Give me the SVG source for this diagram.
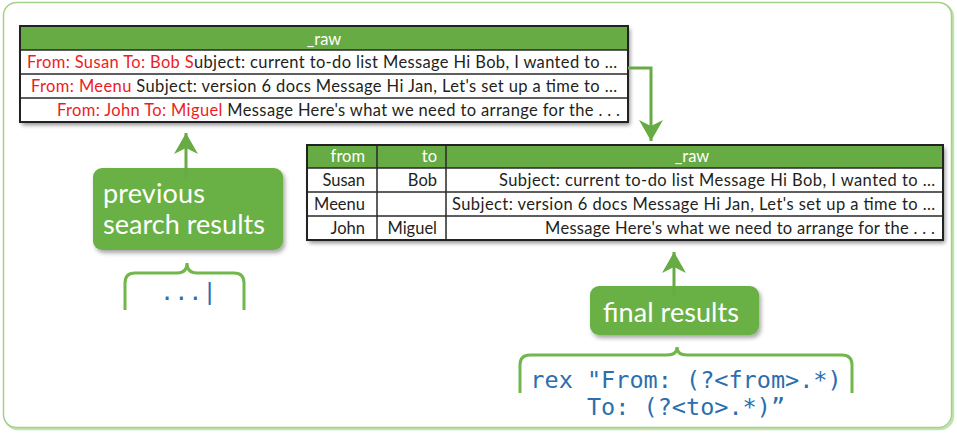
<svg xmlns="http://www.w3.org/2000/svg" width="957" height="433" viewBox="0 0 957 433">
<defs>
<style>
.t{font-family:Lato,"Open Sans","Liberation Sans",sans-serif;font-size:16.5px;fill:#231f20}
.h{font-family:Lato,"Open Sans","Liberation Sans",sans-serif;font-size:16.5px;fill:#ffffff}
.r{fill:#ed1c24}
.lbl{font-family:Lato,"Open Sans","Liberation Sans",sans-serif;font-size:27px;fill:#ffffff}
.code{font-family:"DejaVu Sans Mono","Liberation Mono",monospace;font-size:23.5px;fill:#2b6fae}
.grid{stroke:#2a2a2a;stroke-width:1.5;fill:none}
.border{stroke:#222222;stroke-width:2;fill:none}
.hdr{fill:#67ab44}
.box{fill:#69b145}
.conn{stroke:#67ab44;stroke-width:3;fill:none}
.brace{stroke:#72b74c;stroke-width:3;fill:none}
</style>
<filter id="sh" x="-5%" y="-10%" width="112%" height="130%">
<feDropShadow dx="2" dy="3" stdDeviation="2" flood-color="#000" flood-opacity="0.45"/>
</filter>
<filter id="sh2" x="-10%" y="-10%" width="125%" height="135%">
<feDropShadow dx="2" dy="3" stdDeviation="2" flood-color="#000" flood-opacity="0.35"/>
</filter>
<marker id="arr" viewBox="0 0 21 24" refX="21" refY="12" markerWidth="21" markerHeight="24" markerUnits="userSpaceOnUse" orient="auto">
<path d="M0,0 L21,12 L0,24 L6,12 Z" fill="#67ab44"/>
</marker>
</defs>
<rect width="957" height="433" fill="#ffffff"/>
<g id="frame">
<rect x="5" y="4" width="948" height="425" rx="13" fill="none" stroke="#c4e2b2" stroke-width="2.5"/>
<rect x="3.5" y="2.5" width="948" height="425" rx="13" fill="#ffffff" stroke="#a3d08a" stroke-width="1.5"/>
</g>
<g id="table-previous">
<rect x="20" y="26" width="608" height="96" fill="#ffffff" filter="url(#sh)"/>
<rect x="20" y="26" width="608" height="24" class="hdr"/>
<path class="grid" d="M20,50 H628 M20,74 H628 M20,98 H628"/>
<rect x="20" y="26" width="608" height="96" class="border"/>
<text class="h" x="324" y="45" text-anchor="middle">_raw</text>
<text class="t" x="27" y="68" textLength="590"><tspan class="r">From: Susan To: Bob S</tspan>ubject: current to-do list Message Hi Bob, I wanted to …</text>
<text class="t" x="31" y="92" textLength="586"><tspan class="r">From: Meenu</tspan> Subject: version 6 docs Message Hi Jan, Let's set up a time to …</text>
<text class="t" x="57" y="116" textLength="563"><tspan class="r">From: John To: Miguel</tspan> Message Here's what we need to arrange for the . . .</text>
</g>
<g id="table-final">
<rect x="307" y="145" width="636" height="95" fill="#ffffff" filter="url(#sh)"/>
<rect x="307" y="145" width="636" height="23" class="hdr"/>
<path class="grid" d="M307,168 H943 M307,192 H943 M307,216 H943 M377,145 V240 M446,145 V240"/>
<rect x="307" y="145" width="636" height="95" class="border"/>
<text class="h" x="365" y="162" text-anchor="end">from</text>
<text class="h" x="437" y="162" text-anchor="end">to</text>
<text class="h" x="692" y="162" text-anchor="middle">_raw</text>
<text class="t" x="365" y="186" text-anchor="end">Susan</text>
<text class="t" x="437" y="186" text-anchor="end">Bob</text>
<text class="t" x="499" y="186" textLength="436">Subject: current to-do list Message Hi Bob, I wanted to …</text>
<text class="t" x="365" y="210" text-anchor="end">Meenu</text>
<text class="t" x="452" y="210" textLength="483">Subject: version 6 docs Message Hi Jan, Let's set up a time to …</text>
<text class="t" x="365" y="234" text-anchor="end">John</text>
<text class="t" x="437" y="234" text-anchor="end">Miguel</text>
<text class="t" x="545" y="234" textLength="390">Message Here's what we need to arrange for the . . .</text>
</g>
<g id="label-previous">
<rect x="93" y="168" width="190" height="82" rx="9" class="box" filter="url(#sh2)"/>
<text class="lbl" x="103" y="203" textLength="102">previous</text>
<text class="lbl" x="103" y="234" textLength="162">search results</text>
</g>
<g id="label-final">
<rect x="590" y="286" width="169" height="49" rx="9" class="box" filter="url(#sh2)"/>
<text class="lbl" x="603" y="322" textLength="136">final results</text>
</g>
<g id="brace-previous">
<path class="brace" d="M125,310 V283 Q125,273 135,273 H177 Q187,273 187,263 Q187,273 197,273 H234 Q244,273 244,283 V310"/>
<text class="code" x="160" y="300">...|</text>
</g>
<g id="brace-final">
<path class="brace" d="M520,393 V365 Q520,355 530,355 H667 Q677,355 677,347 Q677,355 687,355 H842 Q852,355 852,365 V393"/>
<text class="code" x="686" y="388" text-anchor="middle">rex "From: (?&lt;from&gt;.*)</text>
<text class="code" x="686" y="415" text-anchor="middle">To: (?&lt;to&gt;.*)”</text>
</g>
<g id="connectors">
<path class="conn" d="M628,68 H651 V141" marker-end="url(#arr)"/>
<path class="conn" d="M186,178 V133" marker-end="url(#arr)"/>
<path class="conn" d="M674,297 V252" marker-end="url(#arr)"/>
</g>
</svg>
